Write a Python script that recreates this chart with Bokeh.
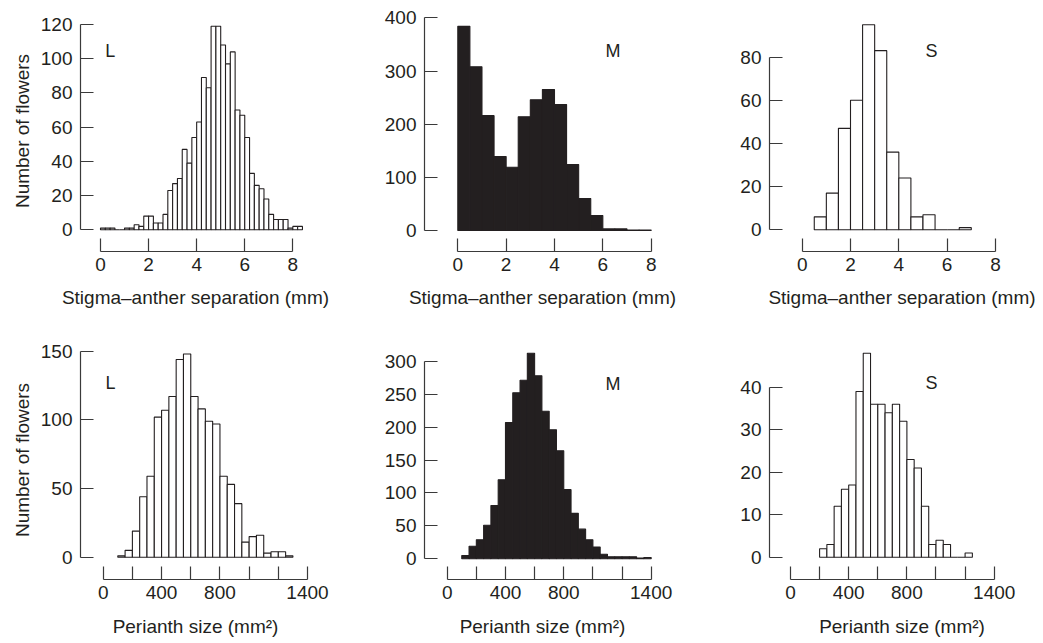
from bokeh.plotting import figure
from bokeh.models import Range1d, FixedTicker, Label
from bokeh.layouts import column, row
from bokeh.embed import file_html
from bokeh.resources import INLINE

# ---------------- data ----------------
# Stigma-anther separation (mm), morph L: bins of 0.2 mm starting at 0
sep_L_start = 0.0
sep_L_width = 0.2
sep_L_counts = [1, 1, 1, 0, 0, 1, 1, 3, 2, 8, 8, 4, 4, 9, 23, 27, 30, 47, 39, 54,
                63, 89, 83, 119, 119, 108, 97, 104, 70, 67, 54, 33, 26, 24, 18, 9,
                6, 6, 6, 1, 2, 2]
# morph M: bins of 0.5 mm starting at 0
sep_M_start = 0.0
sep_M_width = 0.5
sep_M_counts = [384, 308, 216, 139, 119, 214, 246, 265, 237, 124, 60, 28, 3, 3, 1, 1]
# morph S: bins of 0.5 mm starting at 0.5
sep_S_start = 0.5
sep_S_width = 0.5
sep_S_counts = [6, 17, 47, 60, 95, 83, 36, 24, 6, 7, 0, 0, 1]

# Perianth size (mm2), bins of 50
per_L_start = 100
per_L_width = 50
per_L_counts = [1, 5, 19, 44, 59, 102, 107, 117, 144, 148, 117, 108, 99, 97, 59, 53,
                39, 11, 15, 16, 3, 4, 4, 1]
per_M_start = 100
per_M_width = 50
per_M_counts = [5, 19, 29, 51, 81, 120, 207, 252, 271, 312, 278, 224, 196, 164, 105,
                69, 45, 29, 18, 7, 3, 3, 3, 3, 1, 2]
per_S_start = 200
per_S_width = 50
per_S_counts = [2, 3, 12, 16, 17, 39, 48, 36, 36, 34, 36, 32, 23, 21, 12, 3, 4, 3,
                0, 0, 1]

sep_ticks = [0, 2, 4, 6, 8]
per_ticks = [0, 200, 400, 600, 800, 1000, 1200, 1400]
per_tick_labels = {200: "", 600: "", 1000: "", 1200: ""}
morph_labels = ["L", "M", "S"]

sep_title = "Stigma\u2013anther separation (mm)"
per_title = "Perianth size (mm\u00b2)"
y_title = "Number of flowers"

INK = "#231f20"
AXIS = "#3a3a3a"
FONT = "Liberation Sans"
FS = "19px"


def make(width, height, mbl, mbr, mbt, mbb, xr, yr, start, bw, counts, dark,
         xticks, xbounds, yticks, ybounds, xtitle, ytitle, overrides, letter, lx, ly,
         xlab_standoff):
    p = figure(width=width, height=height, output_backend="svg", toolbar_location=None,
               x_range=Range1d(*xr), y_range=Range1d(*yr),
               min_border_left=mbl, min_border_right=mbr,
               min_border_top=mbt, min_border_bottom=mbb)
    left = [start + i * bw for i in range(len(counts))]
    right = [start + (i + 1) * bw for i in range(len(counts))]
    p.quad(left=left, right=right, bottom=0, top=counts,
           fill_color=INK if dark else "white", line_color=INK, line_width=1.1)
    p.outline_line_color = None
    p.xgrid.visible = False
    p.ygrid.visible = False
    p.background_fill_color = "white"
    p.border_fill_color = "white"
    p.xaxis.ticker = FixedTicker(ticks=xticks)
    p.yaxis.ticker = FixedTicker(ticks=yticks)
    p.xaxis.bounds = xbounds
    p.yaxis.bounds = ybounds
    if overrides:
        p.xaxis.major_label_overrides = overrides
    for ax in (p.xaxis[0], p.yaxis[0]):
        ax.major_tick_in = 13
        ax.major_tick_out = 0
        ax.minor_tick_in = 0
        ax.minor_tick_out = 0
        ax.axis_line_color = AXIS
        ax.axis_line_width = 1.2
        ax.major_tick_line_color = AXIS
        ax.major_tick_line_width = 1.2
        ax.major_label_text_font = FONT
        ax.major_label_text_font_size = FS
        ax.major_label_text_color = INK
        ax.axis_label_text_font = FONT
        ax.axis_label_text_font_size = FS
        ax.axis_label_text_font_style = "normal"
        ax.axis_label_text_color = INK
    p.xaxis.major_label_standoff = 6
    p.yaxis.major_label_standoff = 8
    p.xaxis.axis_label = xtitle
    p.xaxis.axis_label_standoff = xlab_standoff
    if ytitle:
        p.yaxis.axis_label = ytitle
        p.yaxis.axis_label_standoff = 5
    p.add_layout(Label(x=lx, y=ly, text=letter, text_font=FONT, text_font_size="18px",
                       text_color=INK, text_baseline="alphabetic", text_align="left"))
    return p


# top row: frame from y=10 to y=251
p1 = make(337, 330, 80, 27, 10, 79, (-0.832, 8.735), (-12.68, 128.2),
          sep_L_start, sep_L_width, sep_L_counts, False,
          sep_ticks, (0, 8), list(range(0, 121, 20)), (0, 120), sep_title, y_title,
          None, morph_labels[0], 0.2, 104.8, 13)
p2 = make(353, 330, 87, 30, 10, 79, (-1.378, 8.386), (-39.5, 413.8),
          sep_M_start, sep_M_width, sep_M_counts, True,
          sep_ticks, (0, 8), list(range(0, 401, 100)), (0, 400), sep_title, None,
          None, morph_labels[1], 6.11, 337, 13)
p3 = make(350, 330, 79, 6, 10, 79, (-1.353, 9.616), (-10.06, 101.6),
          sep_S_start, sep_S_width, sep_S_counts, False,
          sep_ticks, (0, 8), list(range(0, 81, 20)), (0, 80), sep_title, None,
          None, morph_labels[2], 5.10, 82.8, 13)

# bottom row: frame from y=340 to y=579
p4 = make(337, 313, 80, 27, 10, 64, (-155.6, 1420.5), (-16.24, 157.8),
          per_L_start, per_L_width, per_L_counts, False,
          per_ticks, (0, 1400), [0, 50, 100, 150], (0, 150), per_title, y_title,
          per_tick_labels, morph_labels[0], 15.8, 127.2, 14)
p5 = make(353, 313, 87, 30, 10, 64, (-155.8, 1464.0), (-31.4, 331.4),
          per_M_start, per_M_width, per_M_counts, True,
          per_ticks, (0, 1400), list(range(0, 301, 50)), (0, 300), per_title, None,
          per_tick_labels, morph_labels[1], 1086, 266, 14)
p6 = make(350, 313, 79, 6, 10, 64, (-144.3, 1677.0), (-5.25, 51.0),
          per_S_start, per_S_width, per_S_counts, False,
          per_ticks, (0, 1400), [0, 10, 20, 30, 40], (0, 40), per_title, None,
          per_tick_labels, morph_labels[2], 928, 40.9, 14)

layout = column(row(p1, p2, p3), row(p4, p5, p6))
open("out.html", "w").write(file_html(layout, INLINE))
